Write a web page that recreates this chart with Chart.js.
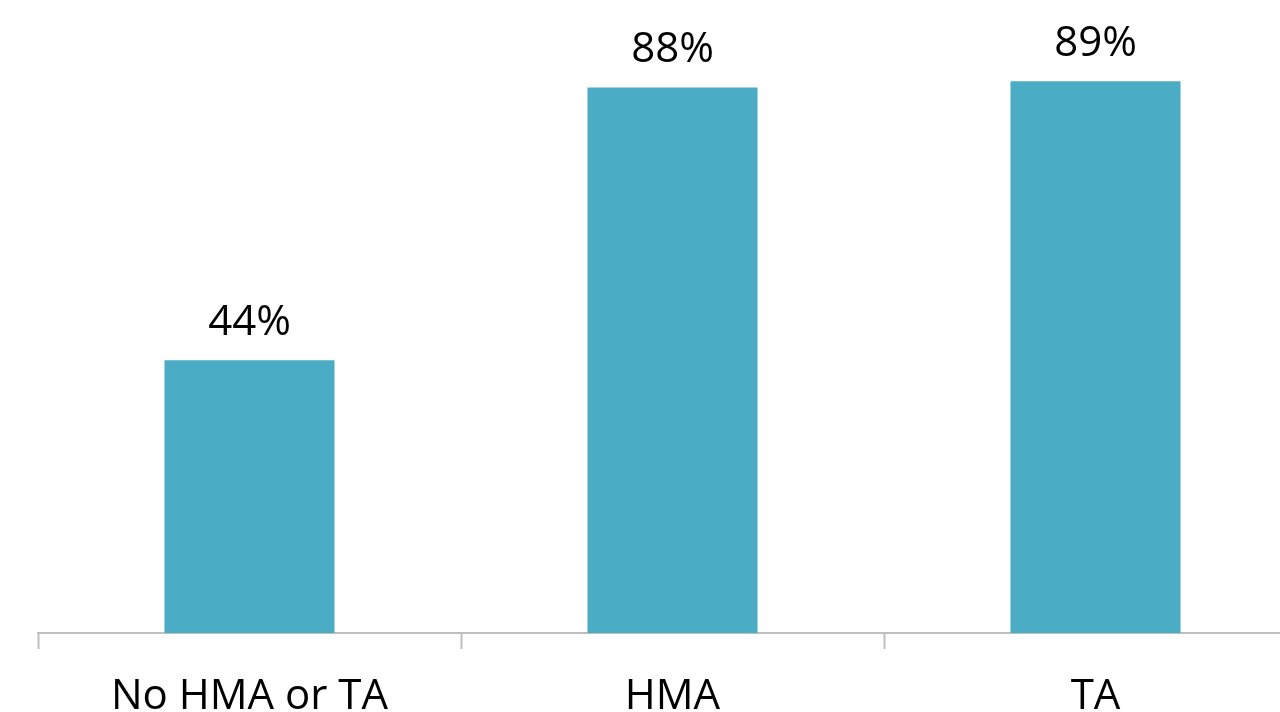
<!DOCTYPE html>
<html>
<head>
<meta charset="utf-8">
<script src="https://cdn.jsdelivr.net/npm/chart.js@4"></script>
<style>
    html, body {margin: 0; padding: 0; background: #ffffff; overflow: hidden;}
    #wrap {position: absolute; left: 0; top: 0; width: 1310px; height: 740px;}
</style>
</head>
<body>
<div id="wrap"><canvas id="barChart"></canvas></div>
<script>
const categories = ['No HMA or TA', 'HMA', 'TA'];
const shares = [44, 88, 89];
const valueLabels = ['44%', '88%', '89%'];

const FONT = '"Open Sans", sans-serif';

// labels above each bar
const barLabels = {
    id: 'barLabels',
    afterDatasetsDraw(chart) {
        const ctx = chart.ctx;
        const meta = chart.getDatasetMeta(0);
        ctx.save();
        ctx.font = '42px ' + FONT;
        ctx.fillStyle = '#000000';
        ctx.textAlign = 'center';
        ctx.textBaseline = 'alphabetic';
        meta.data.forEach((bar, i) => {
            ctx.fillText(valueLabels[i], bar.x, bar.y - 25);
        });
        ctx.restore();
    }
};

new Chart(document.getElementById('barChart'), {
    type: 'bar',
    data: {
        labels: categories,
        datasets: [{
            data: shares,
            backgroundColor: '#4bacc6',
            borderWidth: 0,
            categoryPercentage: 1,
            barPercentage: 0.402
        }]
    },
    options: {
        responsive: true,
        maintainAspectRatio: false,
        animation: false,
        layout: {padding: {left: 38, right: 3, top: 13, bottom: 0}},
        plugins: {
            legend: {display: false},
            tooltip: {enabled: false}
        },
        scales: {
            y: {
                display: false,
                min: 0,
                max: 100
            },
            x: {
                afterFit: function (scale) {
                    scale.height = 107;
                },
                border: {display: true, color: '#bfbfbf', width: 2},
                grid: {
                    offset: true,
                    drawOnChartArea: false,
                    drawTicks: true,
                    tickLength: 16,
                    tickWidth: 2,
                    color: '#bfbfbf'
                },
                ticks: {
                    color: '#000000',
                    padding: 23,
                    maxRotation: 0,
                    autoSkip: false,
                    font: {family: FONT, size: 42}
                }
            }
        }
    },
    plugins: [barLabels]
});
</script>
</body>
</html>
